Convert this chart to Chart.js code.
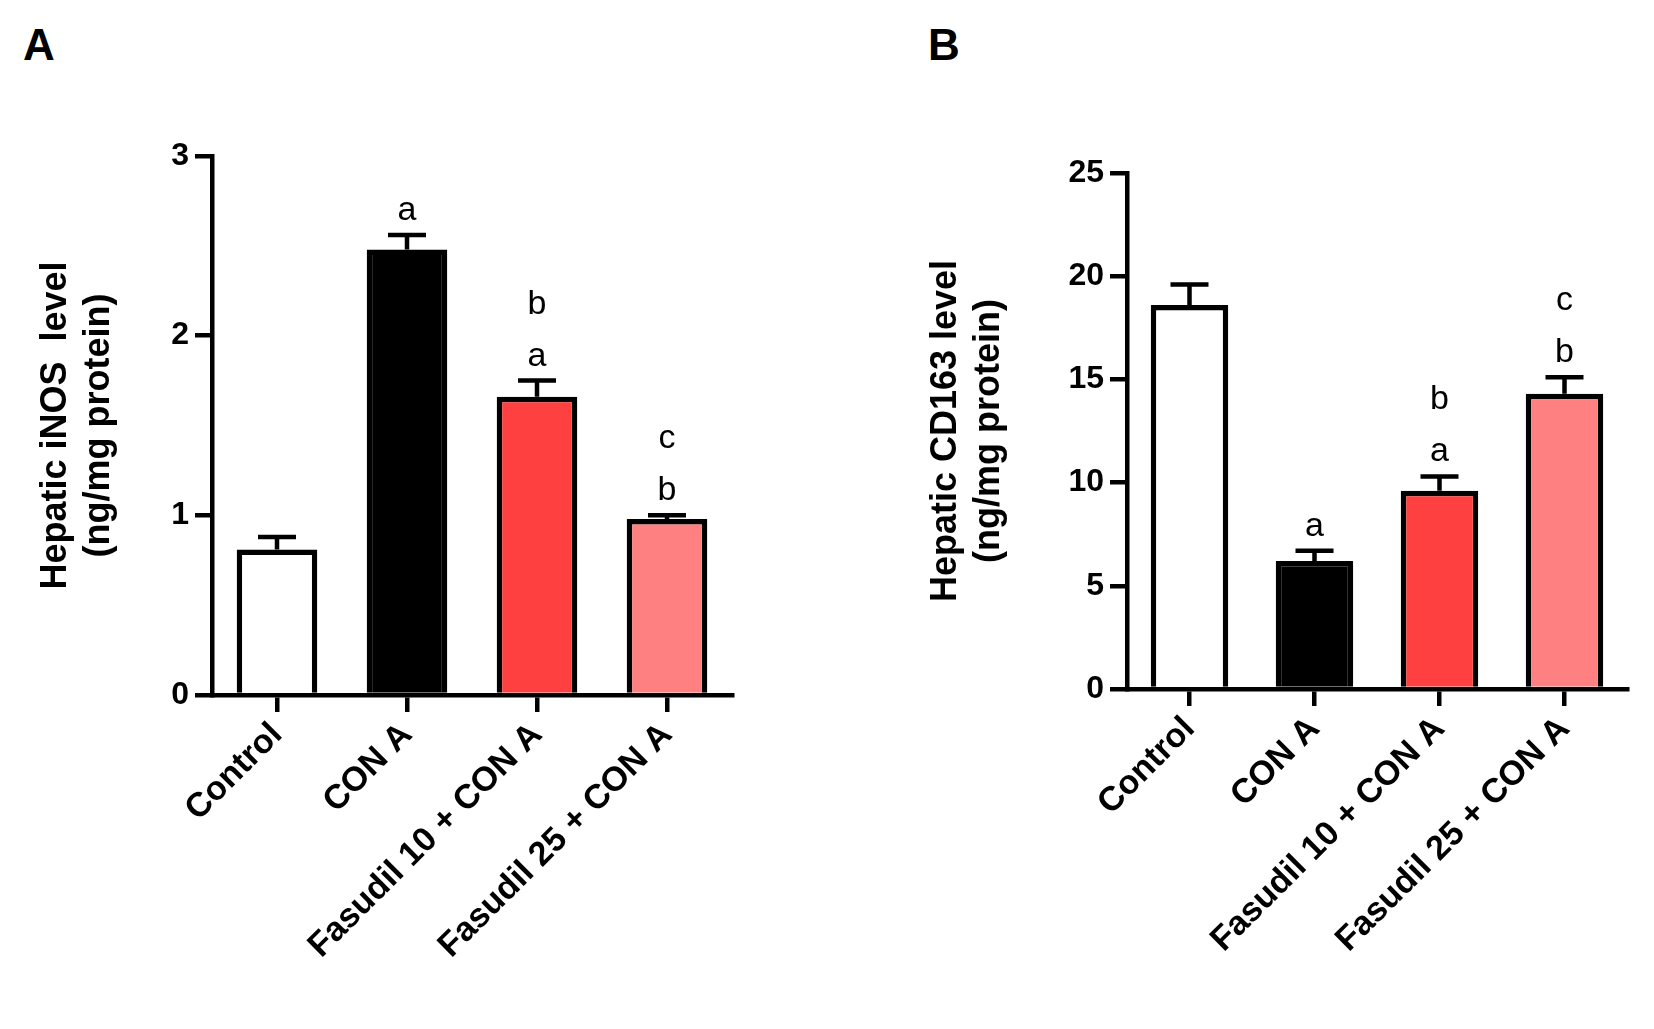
<!DOCTYPE html>
<html>
<head>
<meta charset="utf-8">
<script src="https://cdn.jsdelivr.net/npm/chart.js@4/dist/chart.umd.min.js"></script>
<style>
  body { margin: 0; background: #fff; width: 1654px; height: 1029px; position: relative; overflow: hidden; }
  .panel { position: absolute; top: 0; }
  .tag { position: absolute; top: 20px; font: bold 44px "Liberation Sans", Arial, sans-serif; }
</style>
</head>
<body>
<div class="tag" style="left:23px">A</div>
<div class="tag" style="left:928px">B</div>
<div class="panel" style="left:0; width:760px; height:1029px"><canvas id="chartA"></canvas></div>
<div class="panel" style="left:900px; width:760px; height:1029px"><canvas id="chartB"></canvas></div>
<script>
const categories = ['Control', 'CON A', 'Fasudil 10 + CON A', 'Fasudil 25 + CON A'];
const barColors = ['#ffffff', '#000000', '#ff4040', '#ff8080'];

const inosMean = [0.81, 2.48, 1.66, 0.98];
const inosErr = [0.88, 2.56, 1.75, 1.00];
const inosLetters = [[], ['a'], ['b', 'a'], ['c', 'b']];
const inosTicks = [0, 1, 2, 3];

const cd163Mean = [18.6, 6.2, 9.6, 14.3];
const cd163Err = [19.6, 6.7, 10.3, 15.1];
const cd163Letters = [[], ['a'], ['b', 'a'], ['c', 'b']];
const cd163Ticks = [0, 5, 10, 15, 20, 25];

const font = '"Liberation Sans", Arial, sans-serif';

const annotate = {
    id: 'annotate',
    afterDatasetsDraw(chart, args, opts) {
        const ctx = chart.ctx;
        const y = chart.scales.y;
        const meta = chart.getDatasetMeta(0);
        ctx.save();
        ctx.strokeStyle = '#000';
        ctx.lineWidth = 4.5;
        ctx.fillStyle = '#000';
        ctx.font = '34px ' + font;
        ctx.textAlign = 'center';
        meta.data.forEach((bar, i) => {
            const top = y.getPixelForValue(opts.err[i]);
            const base = y.getPixelForValue(opts.mean[i]);
            ctx.beginPath();
            ctx.moveTo(bar.x, base);
            ctx.lineTo(bar.x, top);
            ctx.moveTo(bar.x - 19, top);
            ctx.lineTo(bar.x + 19, top);
            ctx.stroke();
            const letters = opts.letters[i];
            letters.slice().reverse().forEach((l, k) => {
                ctx.fillText(l, bar.x, top - 15 - k * 52);
            });
        });
        ctx.restore();
    }
};

function makeChart(id, mean, err, letters, ticks, title, padLeft, axisWidth, top, bottomH, padRight) {
    new Chart(document.getElementById(id), {
        type: 'bar',
        data: {
            labels: categories,
            datasets: [{
                data: mean,
                backgroundColor: barColors,
                borderColor: '#000',
                borderWidth: 5.5,
                barPercentage: 0.62,
                categoryPercentage: 1
            }]
        },
        plugins: [annotate],
        options: {
            responsive: true,
            maintainAspectRatio: false,
            animation: false,
            layout: { padding: { top: top, left: padLeft, right: padRight } },
            plugins: {
                legend: { display: false },
                tooltip: { enabled: false },
                annotate: { mean: mean, err: err, letters: letters }
            },
            scales: {
                x: {
                    grid: { drawOnChartArea: false, offset: false, color: '#000', lineWidth: 4.5, tickLength: 17 },
                    border: { color: '#000', width: 4.5 },
                    ticks: { color: '#000', font: { family: font, size: 34, weight: 'bold' }, minRotation: 45, maxRotation: 45 },
                    afterFit: s => { s.height = bottomH; }
                },
                y: {
                    min: ticks[0],
                    max: ticks[ticks.length - 1],
                    afterBuildTicks: s => { s.ticks = ticks.map(v => ({ value: v })); },
                    grid: { drawOnChartArea: false, color: '#000', lineWidth: 4.5, tickLength: 17 },
                    border: { color: '#000', width: 4.5 },
                    ticks: { color: '#000', font: { family: font, size: 32, weight: 'bold' }, padding: 6 },
                    title: { display: true, text: title, color: '#000', font: { family: font, size: 36, weight: 'bold' }, padding: 4 },
                    afterFit: s => { s.width = axisWidth; }
                }
            }
        }
    });
}

makeChart('chartA', inosMean, inosErr, inosLetters, inosTicks,
    ['Hepatic iNOS  level', '(ng/mg protein)'], 30, 182, 156, 334, 28);
makeChart('chartB', cd163Mean, cd163Err, cd163Letters, cd163Ticks,
    ['Hepatic CD163 level', '(ng/mg protein)'], 20, 207, 173, 340, 33);
</script>
</body>
</html>
